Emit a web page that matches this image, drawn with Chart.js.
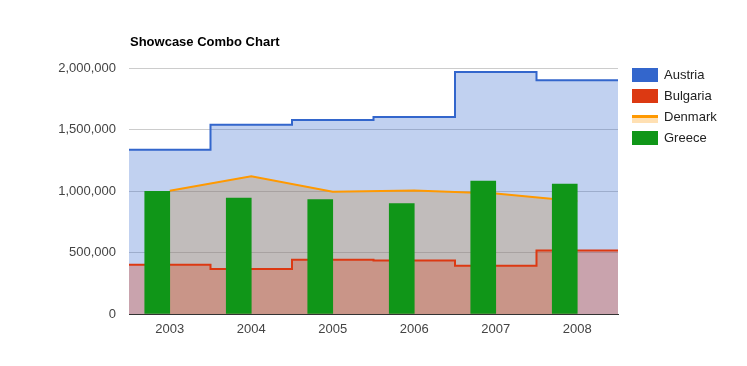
<!DOCTYPE html>
<html>
<head>
<meta charset="utf-8">
<script src="https://cdn.jsdelivr.net/npm/chart.js@4/dist/chart.umd.min.js"></script>
<style>
  body { margin: 0; background: #fff; font-family: "Liberation Sans", Arial, sans-serif; }
  #wrap { position: relative; width: 747px; height: 366px; }
  #title { position: absolute; left: 130px; top: 34px; font-size: 13px; line-height: 15px; font-weight: bold; color: #000; }
  #legend { position: absolute; left: 632px; top: 64px; font-size: 13px; color: #222; }
  .row { display: flex; align-items: center; height: 21px; line-height: 21px; }
  .box { width: 26px; height: 14px; margin-right: 6px; }
  .lineIcon { width: 26px; height: 14px; margin-right: 6px; }
  .lineIcon div { margin-top: 5px; height: 5px; border-top: 3px solid #ff9900; background: #ffe0b3; }
</style>
</head>
<body>
<div id="wrap">
  <canvas id="chart" width="747" height="366"></canvas>
  <div id="title">Showcase Combo Chart</div>
  <div id="legend"></div>
</div>
<script>
// data
const years = ['2003', '2004', '2005', '2006', '2007', '2008'];
const austria = [1336060, 1538156, 1576579, 1600652, 1968113, 1901067];
const bulgaria = [400361, 366849, 440514, 434552, 393032, 517206];
const denmark = [1001582, 1119450, 993360, 1004163, 979198, 916965];
const greece = [997974, 941795, 930593, 897127, 1080887, 1056036];
const yTicks = [0, 500000, 1000000, 1500000, 2000000];

// stepped areas cover the whole category, so put them on a hidden 0..n axis
const steps = vals => vals.map((v, i) => ({ x: i, y: v }))
  .concat([{ x: vals.length, y: vals[vals.length - 1] }]);

const ctx = document.getElementById('chart').getContext('2d');
new Chart(ctx, {
  type: 'bar',
  data: {
    labels: years,
    datasets: [
      {
        type: 'line', label: 'Austria', xAxisID: 'x2', data: steps(austria),
        stepped: 'before', borderColor: '#3366cc', borderWidth: 2,
        backgroundColor: 'rgba(51,102,204,0.3)', fill: 'origin', pointRadius: 0, order: 2
      },
      {
        type: 'line', label: 'Bulgaria', xAxisID: 'x2', data: steps(bulgaria),
        stepped: 'before', borderColor: '#dc3912', borderWidth: 2,
        backgroundColor: 'rgba(220,57,18,0.3)', fill: 'origin', pointRadius: 0, order: 1
      },
      {
        // drawn first so its fill sits under the stepped areas
        type: 'line', label: 'Denmark', data: denmark,
        borderColor: '#ff9900', borderWidth: 2, tension: 0,
        backgroundColor: 'rgba(255,153,0,0.3)', fill: 'origin', pointRadius: 0, order: 3
      },
      {
        label: 'Greece', data: greece, backgroundColor: '#109618',
        barThickness: 25, order: 0
      },
      {
        // empty slot so the bars sit left of the category centre
        label: '', data: years.map(() => null),
        barThickness: 25, order: 0
      }
    ]
  },
  options: {
    responsive: false,
    animation: false,
    devicePixelRatio: 1,
    layout: { padding: { top: 68, right: 129, left: 0, bottom: 0 } },
    plugins: {
      legend: { display: false },
      tooltip: { enabled: false },
      title: { display: false },
      filler: { drawTime: 'beforeDatasetsDraw' }
    },
    scales: {
      x: {
        type: 'category', offset: true,
        grid: { display: false, drawTicks: false },
        border: { color: '#333', width: 1 },
        ticks: { color: '#444', padding: 8, font: { family: 'Liberation Sans', size: 13 } },
        afterFit: s => { s.height = 52; }
      },
      x2: { type: 'linear', min: 0, max: years.length, offset: false, display: false },
      y: {
        min: 0, max: 2000000,
        afterBuildTicks: s => { s.ticks = yTicks.map(v => ({ value: v })); },
        grid: { color: '#cccccc', drawTicks: false },
        border: { display: false },
        ticks: {
          color: '#444', padding: 13, font: { family: 'Liberation Sans', size: 13 },
          callback: v => v.toLocaleString('en-US')
        },
        afterFit: s => { s.width = 129; }
      }
    }
  }
});

// legend like the original
const legendItems = [
  { name: 'Austria', color: '#3366cc' },
  { name: 'Bulgaria', color: '#dc3912' },
  { name: 'Denmark', line: true },
  { name: 'Greece', color: '#109618' }
];
const legend = document.getElementById('legend');
legendItems.forEach(item => {
  const row = document.createElement('div');
  row.className = 'row';
  const icon = document.createElement('div');
  if (item.line) {
    icon.className = 'lineIcon';
    icon.appendChild(document.createElement('div'));
  } else {
    icon.className = 'box';
    icon.style.background = item.color;
  }
  const label = document.createElement('span');
  label.textContent = item.name;
  row.appendChild(icon);
  row.appendChild(label);
  legend.appendChild(row);
});
</script>
</body>
</html>
